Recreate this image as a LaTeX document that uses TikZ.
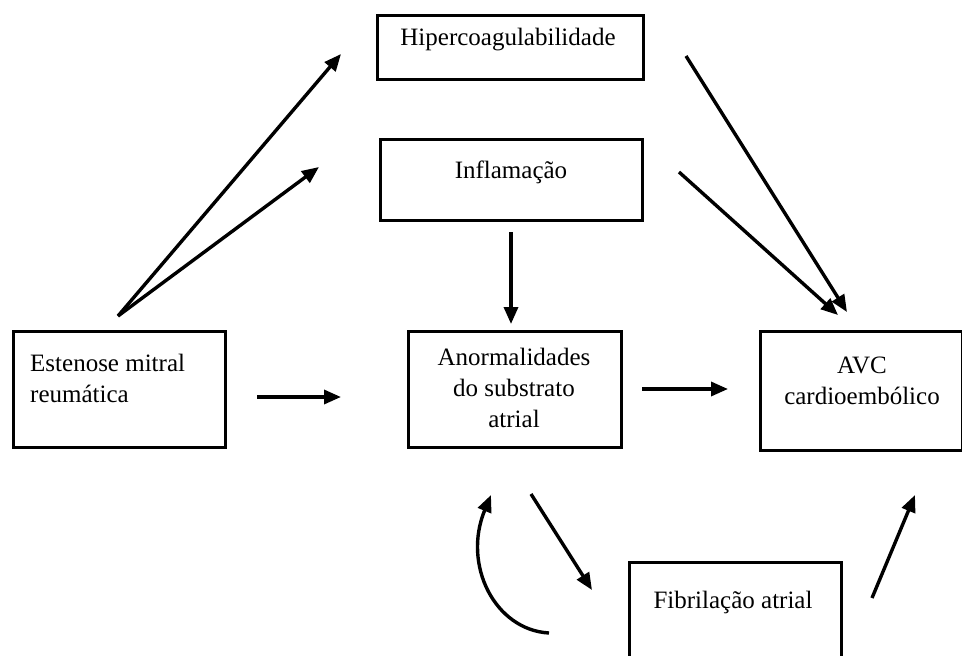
\documentclass[tikz,border=0pt]{standalone}
\usepackage{fontspec}
\setmainfont{Liberation Serif}
\usetikzlibrary{arrows.meta}
\begin{document}
\begin{tikzpicture}[x=1pt,y=-1pt,
  box/.style={draw=black,line width=3pt,inner sep=0pt,anchor=north west},
  lbl/.style={font=\fontsize{25}{31}\selectfont,inner sep=0pt,align=center},
  arr/.style={line width=3.4pt,-{Triangle[length=17pt,width=14pt]}}]
\useasboundingbox (0,0) rectangle (962,656);
% boxes
\node[box,minimum width=266pt,minimum height=64pt] (hip) at (376,14) {};
\node[box,minimum width=262pt,minimum height=81pt] (inf) at (379,138) {};
\node[box,minimum width=212pt,minimum height=116pt] (est) at (12,330) {};
\node[box,minimum width=213pt,minimum height=116pt] (ano) at (407,330) {};
\node[box,minimum width=202pt,minimum height=119pt] (avc) at (759,330) {};
\node[box,minimum width=212pt,minimum height=110pt] (fib) at (628,561) {};
% texts
\node[lbl] (thip) at (508,40) {Hipercoagulabilidade};
\node[lbl] (tinf) at (511,172) {Inflamação};
\node[lbl,align=left,anchor=west] (test) at (30,378) {Estenose mitral\\reumática};
\node[lbl] (tano) at (514,388) {Anormalidades\\do substrato\\atrial};
\node[lbl] (tavc) at (862,381) {AVC\\cardioembólico};
\node[lbl] (tfib) at (733,602) {Fibrilação atrial};
% arrow endpoints
\coordinate (s1) at (118,316);
\coordinate (e1) at (341,54);
\coordinate (e2) at (319,167);
\coordinate (s3) at (257,397);
\coordinate (e3) at (341,397);
\coordinate (s4) at (511,232);
\coordinate (e4) at (511,324);
\coordinate (s5) at (642,389);
\coordinate (e5) at (728,389);
\coordinate (s6) at (686,56);
\coordinate (e6) at (847,312);
\coordinate (s7) at (679,172);
\coordinate (e7) at (838,315);
\coordinate (s8) at (531,494);
\coordinate (e8) at (592,590);
\coordinate (s9) at (872,598);
\coordinate (e9) at (915,495);
\coordinate (s10) at (549,633);
\coordinate (e10) at (491,495);
% arrows
\draw[arr] (s1) -- (e1);
\draw[arr] (s1) -- (e2);
\draw[arr] (s3) -- (e3);
\draw[arr] (s4) -- (e4);
\draw[arr] (s5) -- (e5);
\draw[arr] (s6) -- (e6);
\draw[arr] (s7) -- (e7);
\draw[arr] (s8) -- (e8);
\draw[arr] (s9) -- (e9);
\draw[arr] (s10) .. controls (495,630) and (462,565) .. (e10);
\end{tikzpicture}
\end{document}
